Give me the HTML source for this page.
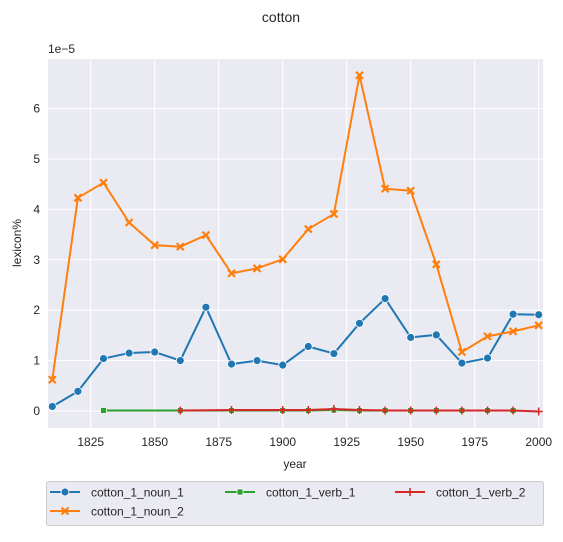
<!DOCTYPE html>
<html><head><meta charset="utf-8"><style>
body{margin:0;background:#fff;font-family:"Liberation Sans","DejaVu Sans",sans-serif;}
svg text{font-family:"Liberation Sans","DejaVu Sans",sans-serif;fill:#262626;}
</style></head><body>
<svg id="chart" width="563" height="537" xmlns="http://www.w3.org/2000/svg">
<text x="281" y="22" font-size="14" text-anchor="middle">cotton</text>
<rect x="48" y="59" width="495" height="369" fill="#eaeaf2"/>
<g id="grid"></g>
<g id="ticks"></g>
<g id="series"></g>
<text x="48" y="53" font-size="12">1e−5</text>
<text x="295" y="468" font-size="12" text-anchor="middle">year</text>
<text x="21" y="243" font-size="12" text-anchor="middle" transform="rotate(-90 21 243)">lexicon%</text>
<rect x="46.5" y="481.5" width="497" height="44" fill="#eaeaf2" stroke="#cccccc" rx="2"/>
<g id="legend"></g>
</svg>
<script>
const years = [1810,1820,1830,1840,1850,1860,1870,1880,1890,1900,1910,1920,1930,1940,1950,1960,1970,1980,1990,2000];
const noun1 = [0.09,0.39,1.04,1.15,1.17,1.0,2.06,0.93,1.0,0.91,1.28,1.14,1.74,2.23,1.46,1.51,0.95,1.05,1.92,1.91];
const noun2 = [0.62,4.23,4.53,3.74,3.29,3.26,3.49,2.73,2.83,3.01,3.61,3.91,6.66,4.41,4.37,2.91,1.17,1.48,1.58,1.70];
const verb1Years = [1830,1860,1880,1900,1910,1920,1930,1940,1950,1960,1970,1980,1990];
const verb1 = [0.01,0.01,0.01,0.01,0.01,0.02,0.01,0.01,0.01,0.01,0.01,0.01,0.01];
const verb2Years = [1860,1880,1900,1910,1920,1930,1940,1950,1960,1970,1980,1990,2000];
const verb2 = [0.01,0.02,0.02,0.02,0.04,0.02,0.01,0.01,0.01,0.01,0.01,0.01,-0.01];
const xTicks = [1825,1850,1875,1900,1925,1950,1975,2000];
const yTicks = [0,1,2,3,4,5,6];

const NS="http://www.w3.org/2000/svg";
const X = y => 90.7 + (y-1825)*2.56;
const Y = v => 411 - v*50.4;
function mk(tag, attrs, parent){const e=document.createElementNS(NS,tag);for(const k in attrs)e.setAttribute(k,attrs[k]);parent.appendChild(e);return e;}
const grid=document.getElementById('grid'), ticks=document.getElementById('ticks'), series=document.getElementById('series'), legend=document.getElementById('legend');
xTicks.forEach(t=>{
  const l=mk('line',{x1:X(t),x2:X(t),y1:59,y2:428,stroke:'#fff','stroke-width':1},grid);
  
  
  const tx=mk('text',{x:X(t),y:446,'font-size':12,'text-anchor':'middle'},ticks);
  tx.textContent=t;
  
  
});
yTicks.forEach(t=>{
  const l=mk('line',{x1:48,x2:543,y1:Y(t),y2:Y(t),stroke:'#fff','stroke-width':1},grid);
  
  
  const tx=mk('text',{x:40,y:Y(t)+4,'font-size':12,'text-anchor':'end'},ticks);
  tx.textContent=t;
  
  
});
function marker(kind,x,y,color,parent){
  let e;
  if(kind==='o') e=mk('circle',{cx:x,cy:y,r:4,fill:color,stroke:'#fff','stroke-width':0.8},parent);
  else if(kind==='s') e=mk('rect',{x:x-3,y:y-3,width:6,height:6,fill:color,stroke:'#fff','stroke-width':0.8},parent);
  else if(kind==='x') e=mk('path',{d:`M${x-3.5},${y-3.5}L${x+3.5},${y+3.5}M${x-3.5},${y+3.5}L${x+3.5},${y-3.5}`,stroke:color,'stroke-width':2.2},parent);
  else e=mk('path',{d:`M${x-4},${y}L${x+4},${y}M${x},${y-4}L${x},${y+4}`,stroke:color,'stroke-width':1.5},parent);
  return e;
}
function drawSeries(xs,vs,color,kind,name){
  const g=mk('g',{},series);
  
  
  const p=mk('polyline',{points:xs.map((y,i)=>X(y)+','+Y(vs[i])).join(' '),fill:'none',stroke:color,'stroke-width':2,'stroke-linejoin':'round'},g);
  
  
  xs.forEach((y,i)=>{
    const m=marker(kind,X(y),Y(vs[i]),color,g);
    
    
  });
}
drawSeries(years,noun1,'#1f77b4','o','noun-1');
drawSeries(years,noun2,'#ff7f0e','x','noun-2');
drawSeries(verb1Years,verb1,'#2ca02c','s','verb-1');
drawSeries(verb2Years,verb2,'#d62728','+','verb-2');

const legItems=[['cotton_1_noun_1','#1f77b4','o',50,492],['cotton_1_noun_2','#ff7f0e','x',50,511],['cotton_1_verb_1','#2ca02c','s',225,492],['cotton_1_verb_2','#d62728','+',395,492]];
legItems.forEach(([lab,c,k,x,y])=>{
  const g=mk('g',{},legend);
  
  
  mk('line',{x1:x,x2:x+30,y1:y,y2:y,stroke:c,'stroke-width':2},g);
  marker(k,x+15,y,c,g);
  const t=mk('text',{x:x+41,y:y+4.5,'font-size':12},g);
  t.textContent=lab;
});
</script>
</body></html>
